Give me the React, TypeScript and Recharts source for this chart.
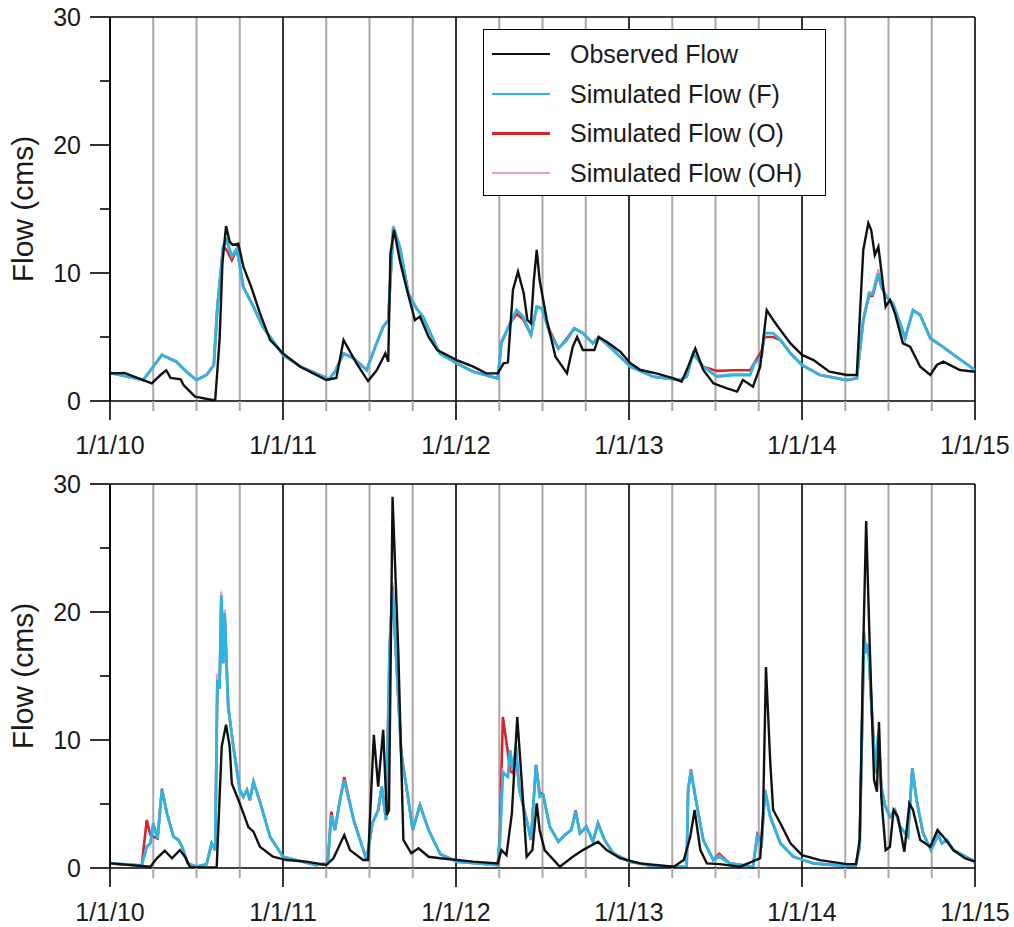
import React from 'react';
import { LineChart, Line, XAxis, YAxis, CartesianGrid, ReferenceLine, Label } from 'recharts';

const FONT = 'Arial, "Liberation Sans", Helvetica, sans-serif';

// x values are months since 1/1/2010
const yearTicks = [0, 12, 24, 36, 48, 60];
const yearLabels = ['1/1/10', '1/1/11', '1/1/12', '1/1/13', '1/1/14', '1/1/15'];
const quarterTicks = [3, 6, 9, 15, 18, 21, 27, 30, 33, 39, 42, 45, 51, 54, 57];
const yTicks = [0, 5, 10, 15, 20, 25, 30];
const yLabelTicks = [0, 10, 20, 30];

const seriesNames = ['Observed Flow', 'Simulated Flow (F)', 'Simulated Flow (O)', 'Simulated Flow (OH)'];
const seriesColors = ['#111111', '#2cb5e2', '#d8232a', '#f39bc2'];

// ---------- Top panel ----------
const topObsT = [0, 1, 2.9, 3.5, 3.9, 4.2, 4.9, 5.1, 5.9, 7.1, 7.3, 7.6, 7.8, 8.05, 8.3, 8.5, 8.9, 9.25, 9.8, 10.4, 11.1, 12, 13.2, 15, 15.7, 16.2, 17.1, 17.9, 18.5, 19.1, 19.3, 19.45, 19.7, 20.1, 20.6, 21.15, 21.5, 22.1, 22.7, 24.05, 25.2, 26.1, 26.9, 27.3, 27.6, 27.95, 28.3, 28.7, 28.95, 29.2, 29.4, 29.6, 29.8, 30.3, 30.9, 31.7, 32.1, 32.4, 32.8, 33.6, 33.9, 34.45, 35.4, 36.1, 36.8, 37.9, 39.1, 39.65, 40.1, 40.6, 41.15, 41.85, 42.8, 43.5, 43.9, 44.6, 45.1, 45.55, 46, 46.5, 47.2, 48, 48.8, 49.9, 51.1, 51.8, 52.25, 52.6, 52.8, 53.05, 53.3, 53.5, 53.8, 54.1, 54.45, 55, 55.5, 56.2, 56.9, 57.35, 57.8, 58.95, 60];
const topObsV = [2.16, 2.2, 1.38, 2.03, 2.4, 1.8, 1.7, 1.25, 0.34, 0.08, 0.1, 4.77, 10.8, 13.67, 12.45, 12.2, 12.3, 10.5, 8.9, 6.86, 4.77, 3.72, 2.68, 1.64, 1.8, 4.77, 2.94, 1.56, 2.4, 3.72, 3.07, 11.5, 13.36, 11.0, 8.67, 6.33, 6.6, 5.0, 3.98, 3.2, 2.68, 2.16, 2.16, 2.94, 3.0, 8.67, 10.1, 8.4, 6.33, 6.07, 9.45, 11.8, 9.45, 6.33, 3.46, 2.16, 4.24, 5.0, 3.98, 3.98, 5.0, 4.63, 3.85, 2.94, 2.42, 2.16, 1.77, 1.51, 2.68, 4.1, 2.42, 1.38, 0.99, 0.73, 1.64, 1.12, 2.68, 7.1, 6.33, 5.55, 4.5, 3.6, 3.2, 2.29, 2.03, 2.03, 11.8, 13.9, 13.36, 11.4, 12.05, 10.2, 7.37, 7.9, 6.85, 4.5, 4.24, 2.68, 2.03, 2.81, 3.07, 2.42, 2.29];

const topSimT = [0, 2.3, 3.0, 3.6, 4.6, 5.3, 6.0, 6.7, 7.2, 7.45, 7.85, 8.1, 8.45, 8.8, 9.25, 9.95, 10.6, 12.0, 13.2, 15.2, 15.6, 16.2, 16.9, 17.8, 18.4, 18.95, 19.3, 19.65, 20.1, 20.7, 21.25, 21.7, 22.7, 22.9, 24.05, 25.2, 26.9, 27.15, 27.75, 28.2, 28.65, 29.2, 29.6, 29.95, 30.5, 31.1, 31.7, 32.2, 32.8, 33.5, 33.9, 34.9, 36.1, 37.7, 39.5, 40.0, 40.45, 41.15, 42.1, 43.2, 44.4, 44.7, 45.2, 45.4, 46.0, 46.5, 47.2, 48.0, 49.25, 51.1, 51.8, 52.25, 52.65, 52.9, 53.3, 53.5, 53.85, 54.3, 54.8, 55.15, 55.7, 56.2, 56.9, 57.6, 58.7, 60];
const topF = [2.2, 1.64, 2.68, 3.6, 3.07, 2.29, 1.64, 2.03, 2.81, 7.37, 12.05, 12.6, 11.3, 11.9, 8.9, 7.37, 5.8, 3.6, 2.7, 1.7, 2.29, 3.72, 3.33, 2.42, 4.24, 5.8, 6.33, 13.6, 12.05, 8.4, 7.24, 6.6, 4.1, 3.7, 2.94, 2.29, 1.77, 4.5, 6.07, 7.1, 6.6, 5.16, 7.37, 7.24, 5.3, 4.1, 4.77, 5.68, 5.3, 4.5, 5.0, 3.98, 2.68, 1.9, 1.64, 1.9, 3.72, 2.68, 1.9, 2.03, 2.03, 2.94, 3.46, 5.3, 5.3, 4.77, 3.72, 2.81, 2.03, 1.64, 1.77, 6.33, 8.4, 8.3, 9.97, 8.93, 8.15, 7.63, 6.07, 4.9, 7.1, 6.72, 4.9, 4.37, 3.46, 2.42];
const topO = [2.2, 1.64, 2.68, 3.6, 3.07, 2.29, 1.64, 2.03, 2.81, 7.37, 12.05, 11.8, 11.0, 11.9, 8.9, 7.37, 5.8, 3.6, 2.7, 1.7, 2.29, 3.72, 3.33, 2.42, 4.24, 5.8, 6.33, 13.5, 12.05, 8.4, 7.24, 6.6, 4.1, 3.7, 2.94, 2.29, 1.77, 4.6, 6.07, 6.8, 6.4, 5.16, 7.3, 7.24, 5.5, 4.1, 4.9, 5.68, 5.3, 4.5, 5.0, 3.98, 2.68, 1.9, 1.64, 1.9, 3.72, 2.68, 2.35, 2.4, 2.4, 3.0, 3.9, 5.0, 5.0, 4.77, 3.72, 2.81, 2.03, 1.64, 1.77, 6.33, 8.2, 8.2, 9.9, 8.93, 8.15, 7.63, 6.07, 4.9, 7.1, 6.72, 4.9, 4.37, 3.46, 2.42];
const topOH = [2.2, 1.64, 2.68, 3.6, 3.07, 2.29, 1.64, 2.03, 2.81, 7.37, 12.05, 12.4, 11.3, 11.9, 8.9, 7.37, 5.8, 3.6, 2.7, 1.7, 2.29, 3.72, 3.33, 2.42, 4.24, 5.8, 6.33, 13.7, 12.05, 8.4, 7.24, 6.6, 4.1, 3.7, 2.94, 2.29, 1.77, 4.5, 6.07, 7.1, 6.6, 5.16, 7.37, 7.24, 5.3, 4.1, 4.77, 5.68, 5.3, 4.5, 5.0, 3.98, 2.68, 1.9, 1.64, 1.9, 3.72, 2.68, 2.0, 2.1, 2.1, 2.94, 3.46, 5.3, 5.3, 4.77, 3.72, 2.81, 2.03, 1.64, 1.77, 6.33, 8.5, 8.5, 10.3, 9.0, 8.15, 7.63, 6.07, 4.9, 7.1, 6.72, 4.9, 4.37, 3.46, 2.42];

// ---------- Bottom panel ----------
const botObsT = [0, 2.8, 3.25, 3.8, 4.3, 4.85, 5.2, 5.55, 7.4, 7.75, 8.05, 8.3, 8.45, 9.0, 9.6, 9.95, 10.4, 11.3, 12.25, 13.6, 15.0, 15.5, 16.25, 16.65, 17.55, 17.9, 18.3, 18.6, 18.95, 19.2, 19.35, 19.6, 20.0, 20.35, 20.9, 21.4, 22.1, 22.9, 25.2, 26.9, 27.15, 27.5, 27.875, 28.25, 28.55, 28.9, 29.3, 29.6, 29.8, 30.15, 31.2, 32.1, 32.8, 33.85, 34.45, 35.4, 36.75, 39.1, 39.8, 40.25, 40.55, 40.95, 41.4, 42.3, 43.7, 45.1, 45.3, 45.5, 45.8, 46.0, 46.5, 47.2, 48.0, 49.25, 51.1, 51.75, 52.0, 52.25, 52.45, 52.7, 53.0, 53.2, 53.34, 53.5, 53.8, 54.1, 54.35, 54.65, 55.1, 55.45, 55.7, 56.2, 56.9, 57.4, 57.8, 58.5, 59.3, 60];
const botObsV = [0.36, 0.1, 0.76, 1.35, 0.76, 1.4, 0.88, 0.05, 0.05, 9.5, 11.2, 9.5, 6.6, 5.05, 3.2, 2.84, 1.66, 0.88, 0.62, 0.5, 0.23, 0.76, 2.58, 1.4, 0.62, 0.62, 10.4, 6.35, 10.8, 4.14, 4.5, 29.0, 16.8, 2.19, 1.15, 1.54, 0.88, 0.76, 0.5, 0.36, 1.4, 1.0, 4.27, 11.8, 6.9, 0.88, 1.4, 5.05, 2.97, 1.4, 0.1, 0.88, 1.4, 2.06, 1.4, 0.76, 0.36, 0.1, 0.62, 2.45, 4.53, 1.4, 0.36, 0.3, 0.1, 0.76, 4.27, 15.7, 8.2, 4.53, 3.5, 1.93, 1.0, 0.62, 0.3, 0.3, 2.19, 17.3, 27.1, 17.3, 6.87, 5.96, 11.4, 5.57, 1.4, 1.66, 4.53, 4.0, 1.27, 5.05, 4.53, 2.19, 1.66, 2.97, 2.45, 1.4, 0.76, 0.5];

const botSimT = [0, 2.2, 2.55, 2.8, 3.0, 3.3, 3.6, 3.95, 4.4, 4.75, 5.0, 5.4, 6.0, 6.7, 7.05, 7.3, 7.45, 7.6, 7.72, 7.85, 7.95, 8.2, 8.55, 9.0, 9.25, 9.5, 9.7, 9.95, 10.4, 11.1, 12.0, 14.3, 15.1, 15.35, 15.6, 15.95, 16.25, 16.9, 17.8, 18.2, 18.6, 18.85, 19.15, 19.4, 19.6, 19.75, 20.2, 20.7, 21.0, 21.5, 22.1, 22.9, 24.05, 26.9, 27.05, 27.25, 27.6, 27.75, 27.95, 28.15, 28.4, 28.9, 29.2, 29.55, 29.8, 30.05, 30.5, 31.1, 31.55, 32.0, 32.3, 32.6, 33.05, 33.5, 33.85, 34.3, 34.9, 36.05, 37.9, 40.0, 40.1, 40.3, 40.6, 41.15, 41.85, 42.25, 43.0, 44.6, 44.9, 45.2, 45.43, 45.8, 46.5, 47.4, 48.8, 51.7, 52.0, 52.3, 52.45, 52.6, 52.85, 53.1, 53.3, 53.5, 53.75, 54.1, 54.45, 54.8, 55.35, 55.65, 55.95, 56.4, 56.95, 57.45, 57.7, 58.05, 58.5, 60];
const botF = [0.36, 0.2, 1.66, 1.93, 3.5, 2.32, 6.1, 4.27, 2.45, 2.19, 1.66, 0.36, 0.1, 0.3, 1.93, 1.4, 14.7, 14.0, 21.3, 16.0, 19.9, 12.6, 9.48, 6.1, 5.57, 6.1, 5.3, 6.74, 5.18, 2.45, 0.88, 0.23, 0.36, 4.14, 2.97, 5.3, 6.87, 3.75, 0.62, 3.5, 4.53, 6.35, 3.75, 17.3, 22.0, 18.6, 8.96, 5.3, 2.97, 4.92, 2.97, 1.1, 0.5, 0.23, 2.19, 7.4, 7.13, 9.2, 7.66, 9.5, 6.1, 3.75, 2.19, 8.05, 5.57, 5.7, 3.23, 2.06, 2.58, 2.97, 4.4, 2.71, 3.23, 2.06, 3.5, 2.19, 1.15, 0.5, 0.1, 0.1, 6.1, 7.52, 5.57, 2.19, 0.62, 0.88, 0.36, 0.1, 2.45, 1.93, 6.1, 4.0, 1.93, 0.88, 0.36, 0.1, 1.66, 18.3, 16.8, 17.5, 12.1, 7.4, 10.5, 6.35, 4.92, 4.0, 4.53, 3.23, 2.45, 7.79, 5.3, 2.71, 1.4, 2.58, 1.93, 2.19, 1.4, 0.5];
const botO = [0.36, 0.2, 3.75, 2.6, 2.45, 2.3, 6.2, 4.27, 2.45, 2.19, 1.66, 0.36, 0.1, 0.3, 1.93, 1.4, 15.0, 14.0, 21.0, 16.0, 19.9, 12.6, 9.6, 6.1, 5.57, 6.1, 5.3, 6.74, 5.18, 2.45, 0.88, 0.23, 0.36, 4.4, 2.97, 5.3, 7.1, 3.75, 0.62, 3.5, 4.53, 6.35, 3.75, 17.3, 21.8, 18.6, 8.96, 5.3, 2.97, 4.92, 2.97, 1.1, 0.5, 0.23, 3.0, 11.8, 9.0, 7.6, 7.4, 9.0, 6.1, 3.75, 2.19, 8.05, 5.9, 5.7, 3.23, 2.06, 2.58, 2.97, 4.5, 2.71, 3.23, 2.06, 3.5, 2.19, 1.15, 0.5, 0.1, 0.1, 6.1, 7.7, 5.57, 2.19, 0.62, 1.1, 0.36, 0.1, 2.6, 1.93, 6.1, 4.0, 1.93, 0.88, 0.36, 0.1, 1.66, 18.0, 16.8, 17.5, 12.1, 7.4, 10.5, 6.35, 4.92, 4.0, 4.53, 3.23, 2.45, 7.79, 5.3, 2.71, 1.4, 2.58, 1.93, 2.19, 1.4, 0.5];
const botOH = [0.36, 0.2, 1.66, 1.93, 3.5, 2.32, 6.1, 4.27, 2.45, 2.19, 1.66, 0.36, 0.1, 0.3, 1.93, 1.4, 15.2, 14.0, 21.6, 16.0, 20.2, 12.6, 9.48, 6.1, 5.57, 6.1, 5.3, 6.74, 5.18, 2.45, 0.88, 0.23, 0.36, 4.14, 2.97, 5.3, 6.87, 3.75, 0.62, 3.5, 4.53, 6.35, 3.75, 17.3, 22.3, 18.6, 8.96, 5.3, 2.97, 4.92, 2.97, 1.1, 0.5, 0.23, 2.19, 7.6, 7.13, 9.2, 7.66, 9.5, 6.1, 3.75, 2.19, 8.05, 5.57, 5.7, 3.23, 2.06, 2.58, 2.97, 4.4, 2.71, 3.23, 2.06, 3.5, 2.19, 1.15, 0.5, 0.1, 0.1, 6.1, 7.6, 5.57, 2.19, 0.62, 0.95, 0.36, 0.1, 2.45, 1.93, 6.1, 4.0, 1.93, 0.88, 0.36, 0.1, 1.66, 18.6, 16.8, 17.5, 12.1, 7.4, 10.8, 6.35, 4.92, 4.0, 4.53, 3.23, 2.45, 7.79, 5.3, 2.71, 1.4, 2.58, 1.93, 2.19, 1.4, 0.5];

const zip = (t: number[], v: number[]) => t.map((m, i) => ({ m, v: v[i] }));

const allXTicks = [...yearTicks, ...quarterTicks].sort((a, b) => a - b);

const XTick = (props: any) => {
  const { x, y, payload } = props;
  const val = payload.value;
  const yi = yearTicks.indexOf(val);
  const isYear = yi >= 0;
  return (
    <g>
      <line x1={x} x2={x} y1={y} y2={y + (isYear ? 19 : 10)} stroke={isYear ? '#000' : '#a8a8a8'} strokeWidth={isYear ? 1.6 : 2} />
      {isYear && (
        <text x={x} y={y + 53} textAnchor="middle" fontSize={25} fontFamily={FONT} fill="#1a1a1a">
          {yearLabels[yi]}
        </text>
      )}
    </g>
  );
};

const YTick = (props: any) => {
  const { x, y, payload } = props;
  const val = payload.value;
  const major = yLabelTicks.indexOf(val) >= 0;
  return (
    <g>
      <line x1={x - (major ? 20 : 10)} x2={x} y1={y} y2={y} stroke="#000" strokeWidth={1.6} />
      {major && (
        <text x={x - 29} y={y} dy="0.36em" textAnchor="end" fontSize={25} fontFamily={FONT} fill="#1a1a1a">
          {val}
        </text>
      )}
    </g>
  );
};

const YTitle = (props: any) => {
  const vb = props.viewBox || {};
  const cy = vb.y != null && vb.height != null ? vb.y + vb.height / 2 : 209;
  return (
    <text x={33} y={cy} transform={`rotate(-90, 33, ${cy})`} textAnchor="middle" fontSize={30} fontFamily={FONT} fill="#1a1a1a">
      Flow (cms)
    </text>
  );
};

type PanelProps = { obs: any[]; f: any[]; o: any[]; oh: any[] };

const Panel = ({ obs, f, o, oh }: PanelProps) => (
  <LineChart width={1014} height={460} margin={{ top: 17, right: 39, bottom: 0, left: 0 }}>
    <CartesianGrid horizontal={false} verticalValues={quarterTicks} stroke="#a8a8a8" strokeWidth={2} />
    <CartesianGrid horizontal={false} verticalValues={yearTicks} stroke="#000" strokeWidth={1.6} />
    <ReferenceLine y={30} stroke="#000" strokeWidth={1.6} />
    <XAxis
      type="number"
      dataKey="m"
      domain={[0, 60]}
      ticks={allXTicks}
      interval={0}
      tickSize={0}
      tickMargin={0}
      tickLine={false}
      axisLine={{ stroke: '#000', strokeWidth: 1.6 }}
      tick={<XTick />}
      height={59}
      allowDataOverflow
    />
    <YAxis
      type="number"
      domain={[0, 30]}
      ticks={yTicks}
      interval={0}
      tickSize={0}
      tickMargin={0}
      tickLine={false}
      axisLine={{ stroke: '#000', strokeWidth: 1.6 }}
      tick={<YTick />}
      width={110}
      allowDataOverflow
    >
      <Label content={<YTitle />} />
    </YAxis>
    <Line data={o} dataKey="v" type="linear" dot={false} stroke={seriesColors[2]} strokeWidth={2.6} isAnimationActive={false} />
    <Line data={oh} dataKey="v" type="linear" dot={false} stroke={seriesColors[3]} strokeWidth={2.4} isAnimationActive={false} />
    <Line data={f} dataKey="v" type="linear" dot={false} stroke={seriesColors[1]} strokeWidth={2.8} isAnimationActive={false} />
    <Line data={obs} dataKey="v" type="linear" dot={false} stroke={seriesColors[0]} strokeWidth={2.4} isAnimationActive={false} />
  </LineChart>
);

const LegendBox = () => (
  <div
    style={{
      position: 'absolute',
      left: 483,
      top: 29,
      width: 343,
      height: 167,
      border: '1.6px solid #000',
      background: '#fff',
      boxSizing: 'border-box',
      fontFamily: FONT,
      fontSize: 25,
      color: '#1a1a1a',
    }}
  >
    {seriesNames.map((name, i) => (
      <div key={name} style={{ position: 'absolute', left: 0, top: 24 + i * 39.5 - 15, height: 30, width: '100%' }}>
        <div style={{ position: 'absolute', left: 8, top: 14, width: 58, height: i === 0 ? 1.5 : 2.5, background: seriesColors[i] }} />
        <div style={{ position: 'absolute', left: 86, top: 0, lineHeight: '30px', whiteSpace: 'nowrap' }}>{name}</div>
      </div>
    ))}
  </div>
);

export default function App() {
  return (
    <div style={{ position: 'absolute', left: 0, top: 0, width: 1014, height: 927, background: '#fff' }}>
      <div style={{ position: 'absolute', left: 0, top: 0 }}>
        <Panel obs={zip(topObsT, topObsV)} f={zip(topSimT, topF)} o={zip(topSimT, topO)} oh={zip(topSimT, topOH)} />
      </div>
      <div style={{ position: 'absolute', left: 0, top: 467 }}>
        <Panel obs={zip(botObsT, botObsV)} f={zip(botSimT, botF)} o={zip(botSimT, botO)} oh={zip(botSimT, botOH)} />
      </div>
      <LegendBox />
    </div>
  );
}
